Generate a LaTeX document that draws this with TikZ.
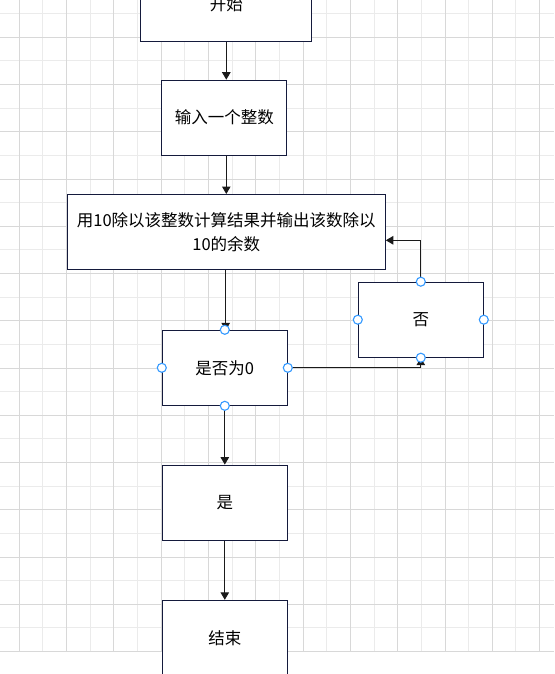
\documentclass[tikz,border=0pt]{standalone}
\usepackage{fontspec}
\setmainfont{Noto Sans CJK SC}
\usetikzlibrary{arrows.meta}
\definecolor{gridlight}{HTML}{EBEBEB}
\definecolor{griddark}{HTML}{D8D8D8}
\definecolor{boxline}{HTML}{141A3C}
\definecolor{conline}{HTML}{1A1A1A}
\definecolor{handle}{HTML}{3399FF}
\tikzset{
  box/.style={draw=boxline, fill=white, line width=1pt, minimum width=125pt, minimum height=75pt, inner sep=0pt, font=\fontsize{16.5}{24}\selectfont, text=black},
  arr/.style={draw=conline, line width=1pt, -{Triangle[length=7.5pt,width=8.5pt]}},
  hdl/.style={draw=handle, fill=white, line width=1.1pt},
}
\begin{document}
\begin{tikzpicture}[x=1pt,y=-1pt]
\useasboundingbox (0,0) rectangle (554,674);
\clip (0,0) rectangle (554,674);
\fill[white] (0,0) rectangle (554,674);
% grid
\foreach \k in {0,...,10} \draw[gridlight, line width=1pt] ({42.95+47.3*\k},0) -- ({42.95+47.3*\k},651.5);
\foreach \k in {0,...,13} \draw[gridlight, line width=1pt] (0,{13.7+47.25*\k}) -- (554,{13.7+47.25*\k});
\foreach \k in {0,...,11} \draw[griddark, line width=1pt] ({19.3+47.3*\k},0) -- ({19.3+47.3*\k},651.5);
\foreach \k in {0,...,13} \draw[griddark, line width=1pt] (0,{37.3+47.25*\k}) -- (554,{37.3+47.25*\k});
% nodes
\node[box, minimum width=171pt] (start) at (226.3,3.8) {\raisebox{-1.4pt}{开始}};
\node[box] (inp) at (224.4,117.7) {输入一个整数};
\node[box, minimum width=318pt, align=center] (calc) at (226.3,232) {用10除以该整数计算结果并输出该数除以\\10的余数};
\node[box] (no) at (420.8,319.7) {否};
\node[box] (q) at (224.8,367.8) {是否为0};
\node[box] (yes) at (224.8,502.6) {是};
\node[box] (end) at (224.8,637.8) {结束};
\coordinate (back) at (calc.east |- 0,240.3);
% connectors
\draw[arr] (start.south) -- (start.south |- inp.north);
\draw[arr] (inp.south -| calc.north) -- (calc.north);
\draw[arr] (calc.south -| 225.7,0) -- (225.7,330.3);
\draw[arr] (q.east) -| (no.south);
\draw[arr] (no.north) |- (back);
\draw[arr] (q.south) -- (yes.north);
\draw[arr] (yes.south) -- (end.north);
% handles
\foreach \n in {q,no} {
  \foreach \a in {north,south,east,west} \draw[hdl] (\n.\a) circle (4.5pt);
}
\end{tikzpicture}
\end{document}
